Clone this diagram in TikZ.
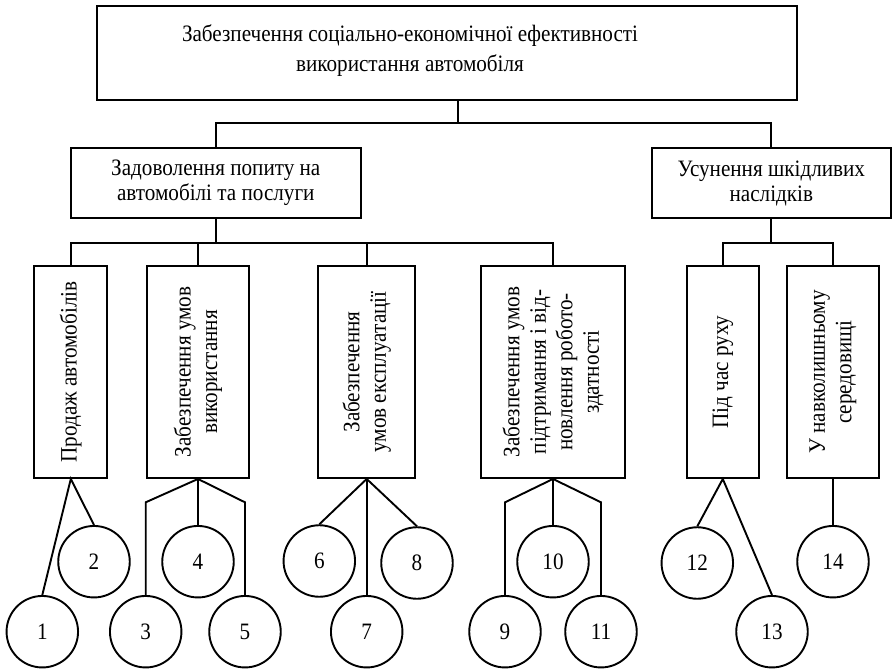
\documentclass[tikz,border=0pt]{standalone}
\usepackage{fontspec}
\setmainfont{Liberation Serif}[FakeStretch=0.9]
\begin{document}
\begin{tikzpicture}[x=1pt, y=-1pt, line width=1.9pt,
  every node/.append style={font=\fontsize{23.5}{25}\selectfont},
  box/.style={draw, inner sep=0pt, align=center},
  vbox/.style={draw, inner sep=0pt, minimum height=212pt},
  vlabel/.style={rotate=90, align=center, inner sep=0pt,
                 font=\fontsize{23.5}{26.5}\selectfont},
  num/.style={draw, circle, minimum size=71.5pt, inner sep=0pt}]
\useasboundingbox (0,0) rectangle (893,669);

% top level
\node[box, minimum width=700pt, minimum height=94pt] (top) at (446.7,53) {};
\node[align=center, inner sep=0pt, font=\fontsize{23.5}{30}\selectfont]
  (toptext) at (410,51)
  {Забезпечення соціально-економічної ефективності\\використання автомобіля};

% second level
\node[box, minimum width=289.7pt, minimum height=70.6pt] (A) at (215.8,183)
  {Задоволення попиту на\\автомобілі та послуги};
\node[box, minimum width=239.3pt, minimum height=70.6pt] (B) at (771.3,183)
  {Усунення шкідливих\\наслідків};

% third level (vertical boxes)
\node[vbox, minimum width=73pt]    (p1) at (70.8,372) {};
\node[vbox, minimum width=101.6pt] (p2) at (198,372) {};
\node[vbox, minimum width=96.7pt]  (p3) at (366.7,372) {};
\node[vbox, minimum width=144pt]   (p4) at (553,372) {};
\node[vbox, minimum width=72.3pt]  (p5) at (722.8,372) {};
\node[vbox, minimum width=92.6pt]  (p6) at (833,372) {};

\node[vlabel] (t1) at (p1.center) {Продаж автомобілів};
\node[vlabel] (t2) at (p2.center) {Забезпечення умов\\використання};
\node[vlabel] (t3) at (p3.center) {Забезпечення\\умов експлуатації};
\node[vlabel] (t4) at (p4.center)
  {Забезпечення умов\\підтримання і від-\\новлення робото-\\здатності};
\node[vlabel] (t5) at (p5.center) {Під час руху};
\node[vlabel] (t6) at (p6.center) {У навколишньому\\середовищі};

% numbered circles
\node[num] (c1)  at (42.3,631.7) {1};
\node[num] (c2)  at (94,561.7)   {2};
\node[num] (c3)  at (145.7,631.7){3};
\node[num] (c4)  at (198,561.7)  {4};
\node[num] (c5)  at (245,631.7)  {5};
\node[num] (c6)  at (319.3,561)  {6};
\node[num] (c7)  at (366.7,631.7){7};
\node[num] (c8)  at (417,563)    {8};
\node[num] (c9)  at (505,631.7)  {9};
\node[num] (c10) at (553,561.7)  {10};
\node[num] (c11) at (601,631.7)  {11};
\node[num] (c12) at (697.3,563)  {12};
\node[num] (c13) at (772,631.7)  {13};
\node[num] (c14) at (833,561.7)  {14};

% junction levels
\coordinate (j0) at (458,123.3);
\coordinate (j1) at (0,243.3);
\coordinate (knee) at (0,502.3);

% tree connectors
\draw (j0 |- top.south) -- (j0);
\draw (A.north) |- (j0) -| (B.north);

\draw (A.south) -- (A.south |- j1);
\draw (p1.north) |- (A.south |- j1) -| (p4.north);
\draw (p2.north) -- (p2.north |- j1);
\draw (p3.north) -- (p3.north |- j1);

\draw (B.south) -- (B.south |- j1);
\draw (p5.north) |- (B.south |- j1) -| (p6.north);

% links to the circles
\draw (c1.north) -- (p1.south) -- (c2.north);
\draw (c3.north) -- (c3.north |- knee) -- (p2.south) -- (c5.north |- knee) -- (c5.north);
\draw (p2.south) -- (c4.north);
\draw (c6.north) -- (p3.south) -- (c8.north);
\draw (p3.south) -- (c7.north);
\draw (c9.north) -- (c9.north |- knee) -- (p4.south) -- (c11.north |- knee) -- (c11.north);
\draw (p4.south) -- (c10.north);
\draw (c12.north) -- (p5.south) -- (c13.north);
\draw (p6.south) -- (c14.north);
\end{tikzpicture}
\end{document}
